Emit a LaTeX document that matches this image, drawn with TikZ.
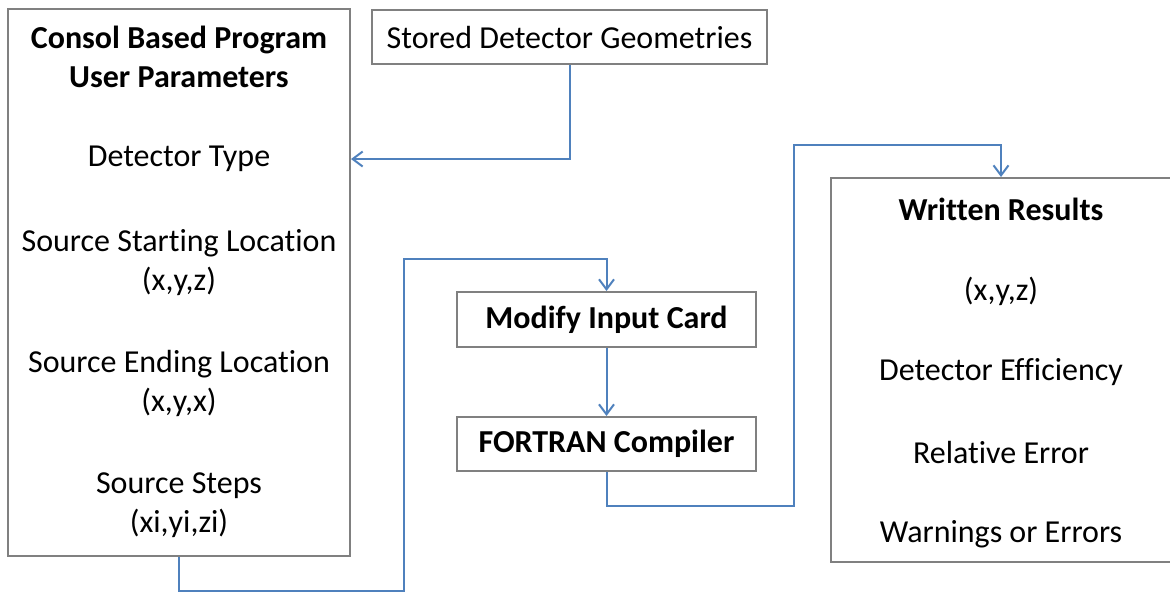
\documentclass[tikz,border=0pt]{standalone}
\usepackage{fontspec}
\setmainfont{Carlito}[Ligatures=NoCommon]
\usetikzlibrary{arrows.meta, positioning}
\definecolor{boxgray}{RGB}{128,128,128}
\definecolor{flowblue}{RGB}{79,129,189}

\begin{document}
\begin{tikzpicture}[x=0.5pt, y=-0.5pt,
    box/.style={draw=boxgray, line width=1pt, inner sep=0pt},
    txt/.style={font=\fontsize{16}{19.5}\selectfont, align=center, inner sep=0pt},
    flow/.style={draw=flowblue, line width=1pt, -{Straight Barb[length=5pt, width=7.5pt]}}]
    \useasboundingbox (0,0) rectangle (1170,591);

    % Parameter box
    \node[box, minimum width=171pt, minimum height=273.5pt] (params) at (179,282.5) {};
    \node[txt, font=\fontsize{16}{19.5}\selectfont\bfseries] (title) at (179,57) {Consol Based Program\\User Parameters};
    \node[txt] (det) at (179,159) {Detector Type};
    \node[txt] (start) at (179,263) {Source Starting Location\\(x,y,z)};
    \node[txt] (end) at (179,383) {Source Ending Location\\(x,y,x)};
    \node[txt] (steps) at (179,505) {Source Steps\\(xi,yi,zi)};

    % Stored geometries
    \node[box, txt, minimum width=197.5pt, minimum height=27pt] (stored) at (569.5,37) {Stored Detector Geometries};

    % Middle chain
    \node[box, txt, font=\fontsize{16}{19.5}\selectfont\bfseries, minimum width=149.5pt, minimum height=27.5pt] (modify) at (606.5,319.5) {Modify Input Card};
    \node[box, txt, font=\fontsize{16}{19.5}\selectfont\bfseries, minimum width=149.5pt, minimum height=27pt] (fortran) at (606.5,444) {FORTRAN Compiler};

    % Results box (runs off the right edge)
    \node[box, minimum width=174pt, minimum height=192pt] (results) at (1005,370) {};
    \node[txt, font=\fontsize{16}{19.5}\selectfont\bfseries] (wr) at (1001,209) {Written Results};
    \node[txt] (xyz) at (1001,291) {(x,y,z)};
    \node[txt] (eff) at (1001,372) {Detector Efficiency};
    \node[txt] (rel) at (1001,452) {Relative Error};
    \node[txt] (warn) at (1001,534) {Warnings or Errors};

    % Connectors
    \draw[flow] (stored.south) |- (params.east |- det);
    \draw[flow] (params.south) -- ++(0,34) -| ++(225,-332) -| (modify.north);
    \draw[flow] (modify.south) -- (fortran.north);
    \draw[flow] (fortran.south) -- ++(0,34) -| ++(187,-361) -| (wr |- results.north);
\end{tikzpicture}
\end{document}
